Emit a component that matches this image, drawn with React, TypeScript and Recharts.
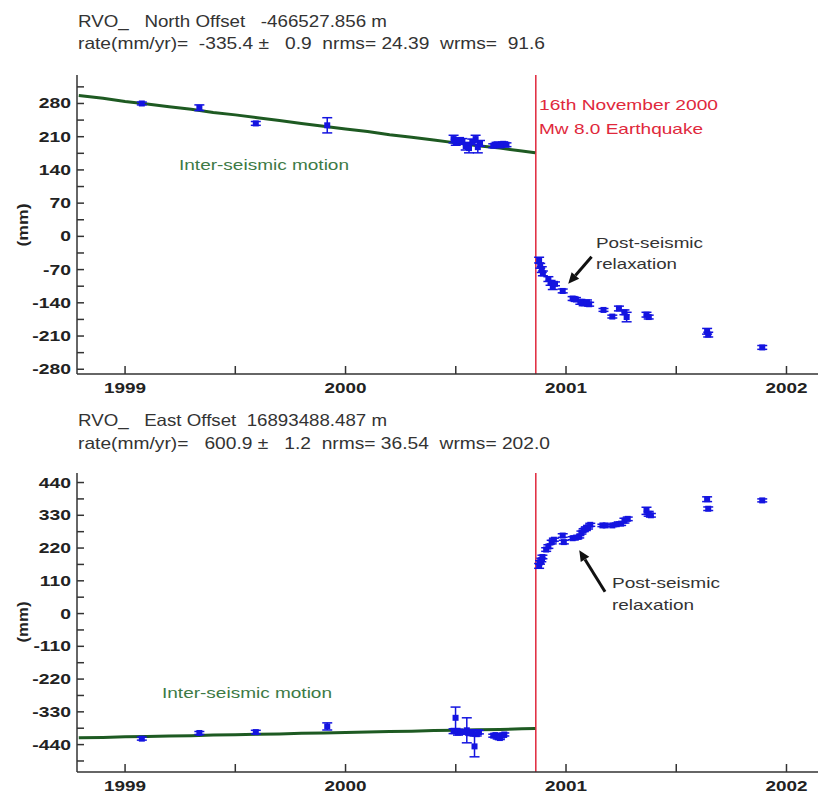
import React from "react";
import { ComposedChart, Line, Scatter, ErrorBar, XAxis, YAxis, ReferenceLine } from "recharts";

// time axis (decimal years)
const yearTicks = [1999, 1999.5, 2000, 2000.5, 2001, 2001.5, 2002];
const yearLabels = [1999, 2000, 2001, 2002];
const xDomain = [1998.782, 2002.152];
const quakeYear = 2000.863;

const northTicks = [-280, -245, -210, -175, -140, -105, -70, -35, 0, 35, 70, 105, 140, 175, 210, 245, 280, 315];
const northLabels = [-280, -210, -140, -70, 0, 70, 140, 210, 280];
const eastTicks = [-495, -440, -385, -330, -275, -220, -165, -110, -55, 0, 55, 110, 165, 220, 275, 330, 385, 440];
const eastLabels = [-440, -330, -220, -110, 0, 110, 220, 330, 440];

// [year, mm]
const northTrend = [
  [1998.79, 297], [1998.9, 291], [1999.0, 284], [1999.1, 279], [1999.2, 273], [1999.3, 268],
  [1999.4, 261], [1999.5, 256], [1999.6, 250], [1999.7, 244], [1999.8, 238], [1999.9, 232],
  [2000.0, 226], [2000.1, 221], [2000.2, 214], [2000.3, 209], [2000.4, 203], [2000.5, 197],
  [2000.6, 191], [2000.7, 186], [2000.8, 180], [2000.86, 176],
];
const eastTrend = [
  [1998.79, -417], [1998.9, -416], [1999.0, -414], [1999.1, -413], [1999.2, -411], [1999.3, -410],
  [1999.4, -408], [1999.5, -407], [1999.6, -405], [1999.7, -404], [1999.8, -402], [1999.9, -401],
  [2000.0, -399], [2000.1, -398], [2000.2, -396], [2000.3, -395], [2000.4, -393], [2000.5, -392],
  [2000.6, -390], [2000.7, -389], [2000.8, -387], [2000.86, -386],
];

// [year, mm, error]
const northObs = [
  [1999.076, 280, 3], [1999.337, 271, 6], [1999.593, 238, 4], [1999.917, 234, 16],
  [2000.49, 205, 8], [2000.5, 198, 6], [2000.515, 203, 5], [2000.53, 200, 6], [2000.545, 190, 8],
  [2000.56, 186, 10], [2000.575, 199, 6], [2000.59, 205, 8], [2000.6, 188, 12], [2000.61, 196, 6],
  [2000.67, 191, 4], [2000.685, 194, 4], [2000.7, 192, 5], [2000.715, 195, 4], [2000.73, 193, 4],
  [2000.878, -50, 6], [2000.883, -62, 5], [2000.89, -70, 6], [2000.895, -78, 5],
  [2000.92, -90, 5], [2000.93, -98, 5], [2000.94, -106, 6], [2000.95, -100, 4],
  [2000.985, -115, 4], [2001.03, -131, 4], [2001.045, -133, 4], [2001.065, -138, 5],
  [2001.08, -141, 5], [2001.095, -139, 5], [2001.105, -143, 4],
  [2001.17, -155, 3], [2001.21, -169, 3], [2001.24, -152, 5], [2001.265, -160, 5], [2001.275, -170, 10],
  [2001.365, -165, 5], [2001.375, -170, 4],
  [2001.64, -200, 6], [2001.645, -207, 5],
  [2001.89, -234, 4],
];
const eastObs = [
  [1999.076, -420, 5], [1999.337, -401, 5], [1999.593, -398, 6], [1999.917, -379, 12],
  [2000.49, -395, 8], [2000.499, -350, 36], [2000.51, -400, 8], [2000.52, -396, 6], [2000.535, -398, 6],
  [2000.55, -392, 42], [2000.565, -402, 6], [2000.575, -398, 8], [2000.585, -446, 35], [2000.595, -405, 6],
  [2000.605, -398, 6],
  [2000.67, -410, 5], [2000.68, -408, 5], [2000.69, -415, 6], [2000.7, -418, 5], [2000.71, -410, 5], [2000.72, -406, 5],
  [2000.878, 160, 8], [2000.882, 172, 6], [2000.888, 180, 6], [2000.893, 190, 6],
  [2000.91, 215, 6], [2000.92, 225, 6], [2000.935, 240, 6], [2000.945, 248, 5],
  [2000.985, 262, 6], [2000.99, 240, 6],
  [2001.03, 253, 5], [2001.045, 255, 5], [2001.06, 258, 4],
  [2001.07, 272, 5], [2001.08, 280, 5], [2001.09, 285, 6], [2001.1, 290, 6], [2001.11, 298, 5],
  [2001.165, 296, 4], [2001.18, 296, 3], [2001.21, 296, 4], [2001.23, 300, 4], [2001.25, 302, 6],
  [2001.265, 312, 8], [2001.28, 318, 6],
  [2001.365, 345, 12], [2001.375, 335, 8], [2001.385, 330, 6],
  [2001.64, 384, 8], [2001.645, 352, 6],
  [2001.89, 380, 5],
];

// annotation arrows: [tail, head] in [year, mm]
const northArrow = [[2001.116, -43], [2001.01, -100]];
const eastArrow = [[2001.177, 73], [2001.06, 213]];

const FONT = "'Liberation Sans', Arial, sans-serif";
const BLUE = "#1414e0";
const GREEN = "#1e5a22";
const RED = "#e0283c";

const XTick = (p: any) => {
  const { x, y, payload } = p;
  if (!yearLabels.includes(payload.value)) return <g />;
  return (
    <text x={x} y={y + 11} textAnchor="middle" fontFamily={FONT} fontWeight="bold" fontSize={14} fill="#222"
      transform={`translate(${x} 0) scale(1.35 1) translate(${-x} 0)`}>
      {payload.value}
    </text>
  );
};

const makeYTick = (labels: number[]) => (p: any) => {
  const { x, y, payload } = p;
  if (!labels.includes(payload.value)) return <g />;
  return (
    <text x={x} y={y + 5} textAnchor="end" fontFamily={FONT} fontWeight="bold" fontSize={14} fill="#222"
      transform={`translate(${x} 0) scale(1.38 1) translate(${-x} 0)`}>
      {payload.value}
    </text>
  );
};

const square = (p: any) => <rect x={p.cx - 3} y={p.cy - 3} width={6} height={6} fill={BLUE} />;

const arrowShape = (p: any) => {
  const { x1, y1, x2, y2 } = p;
  const a = Math.atan2(y2 - y1, x2 - x1);
  const L = 11, W = 5;
  const bx = x2 - L * Math.cos(a), by = y2 - L * Math.sin(a);
  const pts = `${x2},${y2} ${bx + W * Math.sin(a)},${by - W * Math.cos(a)} ${bx - W * Math.sin(a)},${by + W * Math.cos(a)}`;
  return (
    <g>
      <line x1={x1} y1={y1} x2={bx} y2={by} stroke="#111" strokeWidth={3} />
      <polygon points={pts} fill="#111" />
    </g>
  );
};

function Panel({ top, trend, obs, yDomain, yTicks, yLabels, arrow }: any) {
  const trendData = trend.map(([t, v]: number[]) => ({ t, v }));
  const obsData = obs.map(([t, v, e]: number[]) => ({ t, v, e }));
  return (
    <div style={{ position: "absolute", left: 0, top }}>
      <ComposedChart width={830} height={404} margin={{ top: 75, right: 0, bottom: 0, left: 0 }}>
        <XAxis xAxisId="b" dataKey="t" type="number" domain={xDomain} ticks={yearTicks} interval={0}
          allowDataOverflow height={30} tickSize={-8} tickMargin={16} stroke="#333" strokeWidth={1.5} tick={XTick} />
        <XAxis xAxisId="t" dataKey="t" type="number" orientation="top" domain={xDomain} ticks={yearTicks} interval={0}
          allowDataOverflow height={0} tickSize={-8} tick={false} stroke="#333" strokeWidth={1.5} />
        <YAxis yAxisId="l" type="number" domain={yDomain} ticks={yTicks} interval={0} allowDataOverflow
          width={77} tickSize={-7} tickMargin={13} stroke="#333" strokeWidth={1.5} tick={makeYTick(yLabels)} />
        <YAxis yAxisId="r" type="number" orientation="right" domain={yDomain} ticks={yLabels} interval={0}
          allowDataOverflow width={10} tickSize={-6} tick={false} stroke="#333" strokeWidth={1.5} />
        <ReferenceLine xAxisId="b" yAxisId="l" x={quakeYear} stroke={RED} strokeWidth={1.5} />
        <Line xAxisId="b" yAxisId="l" data={trendData} dataKey="v" type="linear" stroke={GREEN} strokeWidth={3}
          dot={false} activeDot={false} isAnimationActive={false} />
        <Scatter xAxisId="b" yAxisId="l" data={obsData} dataKey="v" fill={BLUE} shape={square} isAnimationActive={false}>
          <ErrorBar dataKey="e" direction="y" width={5} stroke={BLUE} strokeWidth={1.5} />
        </Scatter>
        <ReferenceLine xAxisId="b" yAxisId="l" ifOverflow="visible"
          segment={[{ x: arrow[0][0], y: arrow[0][1] }, { x: arrow[1][0], y: arrow[1][1] }]} shape={arrowShape} />
      </ComposedChart>
    </div>
  );
}

const T = ({ x, y, w, size = 15, color = "#333", bold = false, children }: any) => (
  <text x={x} y={y} fontFamily={FONT} fontSize={size} fill={color} fontWeight={bold ? "bold" : "normal"}
    textLength={w} lengthAdjust="spacingAndGlyphs" style={{ whiteSpace: "pre" }}>
    {children}
  </text>
);

export default function App() {
  return (
    <div style={{ position: "fixed", left: 0, top: 0, width: 818, height: 796, overflow: "hidden", background: "#fff" }}>
      <Panel top={0} trend={northTrend} obs={northObs} yDomain={[-290, 340]} yTicks={northTicks} yLabels={northLabels} arrow={northArrow} />
      <Panel top={398} trend={eastTrend} obs={eastObs} yDomain={[-532, 472]} yTicks={eastTicks} yLabels={eastLabels} arrow={eastArrow} />
      <svg width={818} height={796} style={{ position: "absolute", left: 0, top: 0, pointerEvents: "none" }}>
        <T x={78} y={27} w={309} size={16.5}>{"RVO_   North Offset   -466527.856 m"}</T>
        <T x={78} y={49} w={467} size={16.5}>{"rate(mm/yr)=  -335.4 ±   0.9  nrms= 24.39  wrms=  91.6"}</T>
        <T x={78} y={426} w={309} size={16.5}>{"RVO_   East Offset  16893488.487 m"}</T>
        <T x={78} y={449} w={472} size={16.5}>{"rate(mm/yr)=   600.9 ±   1.2  nrms= 36.54  wrms= 202.0"}</T>

        <T x={539} y={110} w={179} size={14.5} color={RED}>16th November 2000</T>
        <T x={539} y={134} w={164} size={14.5} color={RED}>Mw 8.0 Earthquake</T>

        <T x={179} y={170} w={170} size={15} color="#3d7a45">Inter-seismic motion</T>
        <T x={162} y={698} w={170} size={15} color="#3d7a45">Inter-seismic motion</T>

        <T x={596} y={248} w={107} size={15}>Post-seismic</T>
        <T x={596} y={269} w={81} size={15}>relaxation</T>
        <T x={612} y={588} w={108} size={15}>Post-seismic</T>
        <T x={612} y={610} w={82} size={15}>relaxation</T>

        <text transform="translate(28 225) rotate(-90)" textAnchor="middle" fontFamily={FONT} fontWeight="bold"
          fontSize={15} fill="#222" textLength={43} lengthAdjust="spacingAndGlyphs">(mm)</text>
        <text transform="translate(28 622) rotate(-90)" textAnchor="middle" fontFamily={FONT} fontWeight="bold"
          fontSize={15} fill="#222" textLength={41} lengthAdjust="spacingAndGlyphs">(mm)</text>
      </svg>
    </div>
  );
}
